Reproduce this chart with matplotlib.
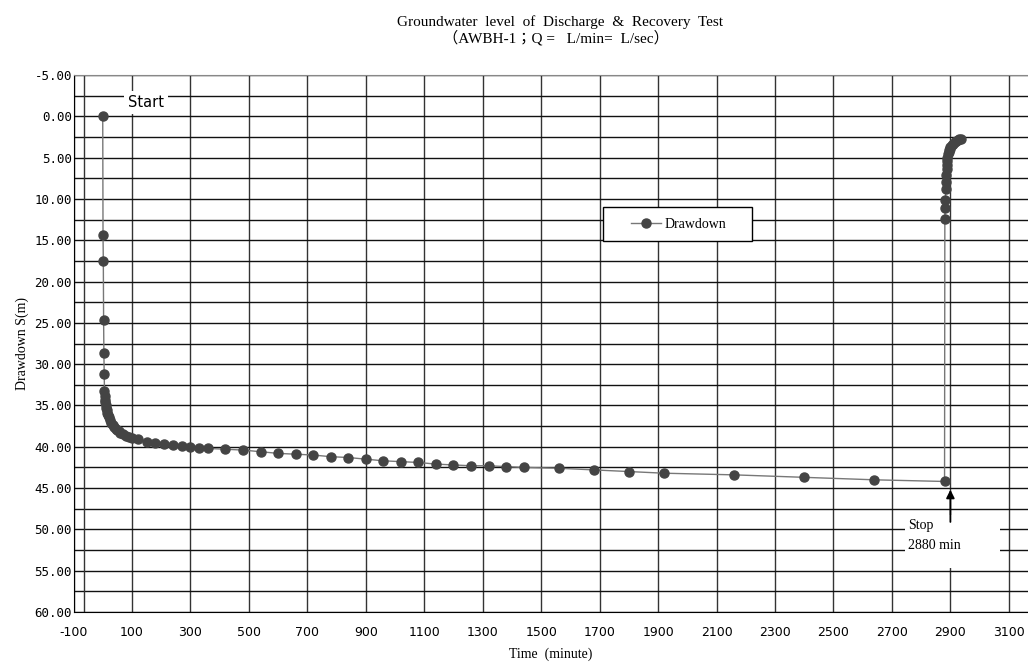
#!/usr/bin/env python3
"""Drawdown during discharge & recovery test (AWBH-1)."""
import matplotlib.pyplot as plt
from matplotlib.patches import Rectangle
from matplotlib.ticker import MultipleLocator, FormatStrFormatter

# ── data: pumping phase (minutes since start, drawdown in m) ──────────────────
pump_time = [0, 1, 2, 3, 4, 5, 6, 7, 8, 9, 10, 12, 14, 16, 18, 20, 25, 30, 35,
             40, 45, 50, 55, 60, 70, 80, 90, 100, 120, 150, 180, 210, 240, 270,
             300, 330, 360, 420, 480, 540, 600, 660, 720, 780, 840, 900, 960,
             1020, 1080, 1140, 1200, 1260, 1320, 1380, 1440, 1560, 1680, 1800,
             1920, 2160, 2400, 2640, 2880]
pump_drawdown = [0.0, 14.4, 17.5, 24.7, 28.7, 31.2, 33.2, 33.9, 34.3, 34.6,
                 34.9, 35.3, 35.6, 35.9, 36.2, 36.4, 36.8, 37.1, 37.4, 37.6,
                 37.8, 38.0, 38.1, 38.3, 38.5, 38.7, 38.8, 38.9, 39.1, 39.4,
                 39.5, 39.7, 39.8, 39.9, 40.0, 40.1, 40.2, 40.3, 40.4, 40.6,
                 40.8, 40.9, 41.0, 41.2, 41.3, 41.5, 41.7, 41.8, 41.9, 42.1,
                 42.2, 42.3, 42.3, 42.4, 42.5, 42.6, 42.8, 43.0, 43.2, 43.4,
                 43.7, 44.0, 44.2]

# ── data: recovery phase ───────────────────────────────────────────────────────
rec_time = [2881, 2882, 2883, 2884, 2885, 2886, 2887, 2888, 2889, 2890, 2892,
            2894, 2896, 2898, 2900, 2905, 2910, 2915, 2920, 2925, 2930, 2935]
rec_drawdown = [12.4, 11.1, 10.1, 8.8, 7.9, 7.1, 6.4, 5.9, 5.4, 5.0, 4.6,
                4.3, 4.1, 3.9, 3.7, 3.5, 3.3, 3.1, 3.0, 2.9, 2.8, 2.7]

x_ticks = list(range(-100, 3101, 200))
y_ticks = list(range(-5, 61, 5))

time = pump_time + rec_time
drawdown = pump_drawdown + rec_drawdown

plt.rcParams["axes.unicode_minus"] = False
SERIF = ["Liberation Serif", "Noto Sans CJK JP"]

fig = plt.figure(figsize=(10.28, 6.63), dpi=100)
ax = fig.add_axes([73.5 / 1028, 1 - 612 / 663, (1028 - 73.5) / 1028, (612 - 75) / 663])

ax.plot(time, drawdown, color="#777777", linewidth=1.0, marker="o",
        markersize=6.5, markerfacecolor="#444444", markeredgecolor="#444444",
        label="Drawdown", zorder=3)

ax.set_xlim(-100, -100 + (1028 - 73.5) / 0.2923)
ax.set_ylim(60, -5)
ax.set_xticks(x_ticks)
ax.set_yticks(y_ticks)
ax.yaxis.set_minor_locator(MultipleLocator(2.5))
ax.yaxis.set_major_formatter(FormatStrFormatter("%.2f"))

ax.grid(True, which="both", axis="y", color="#111111", linewidth=1.0, zorder=1)
ax.grid(True, which="major", axis="x", color="#333333", linewidth=1.0, zorder=1)
ax.axvline(-63, color="#333333", linewidth=1.0, zorder=1)
ax.set_axisbelow(True)

ax.tick_params(axis="both", which="both", length=0)
ax.tick_params(axis="y", pad=1)
ax.tick_params(axis="x", pad=10)
for lbl in ax.get_yticklabels():
    lbl.set_family("DejaVu Sans Mono")
    lbl.set_fontsize(9)
for lbl in ax.get_xticklabels():
    lbl.set_family("DejaVu Sans")
    lbl.set_fontsize(9)

ax.spines["right"].set_visible(False)
ax.spines["top"].set_color("#888888")
for s in ("left", "bottom"):
    ax.spines[s].set_color("black")

ax.set_xlabel("Time  (minute)", family=SERIF, fontsize=10, labelpad=6)
ax.set_ylabel("Drawdown S(m)", family=SERIF, fontsize=10, labelpad=4)

# title, two lines
fig.text(0.545, 1 - 22 / 663, "Groundwater  level  of  Discharge  &  Recovery  Test",
         family=SERIF, fontsize=11, ha="center", va="center")
fig.text(0.541, 1 - 38 / 663, "（AWBH-1；Q =   L/min=  L/sec）",
         family=SERIF, fontsize=11, ha="center", va="center")

# legend: white framed box, frameless legend inside
ax.add_patch(Rectangle((0.5547, 0.691), 0.156, 0.063, transform=ax.transAxes,
                       facecolor="white", edgecolor="black", linewidth=1.0,
                       zorder=4))
ax.legend(loc="center left", bbox_to_anchor=(0.584, 0.7225), frameon=False,
          borderaxespad=0, borderpad=0, handlelength=2.2, handletextpad=0.2,
          prop={"family": SERIF, "size": 10})

# start label
ax.text(87, -1.7, "Start", fontsize=10.5, ha="left", va="center",
        bbox=dict(facecolor="white", edgecolor="none", pad=3), zorder=4)

# stop label and arrow
ax.add_patch(Rectangle((2745, 48.2), 325, 6.5, facecolor="white",
                       edgecolor="none", zorder=4))
ax.text(2755, 49.5, "Stop", family=SERIF, fontsize=10, va="center", zorder=5)
ax.text(2755, 51.9, "2880 min", family=SERIF, fontsize=10, va="center", zorder=5)
ax.annotate("", xy=(2900, 45.2), xytext=(2900, 49.1),
            arrowprops=dict(arrowstyle="-|>", color="black", lw=1.3,
                            mutation_scale=12, shrinkA=0, shrinkB=0),
            zorder=5)

fig.savefig("out.png", dpi=100)
